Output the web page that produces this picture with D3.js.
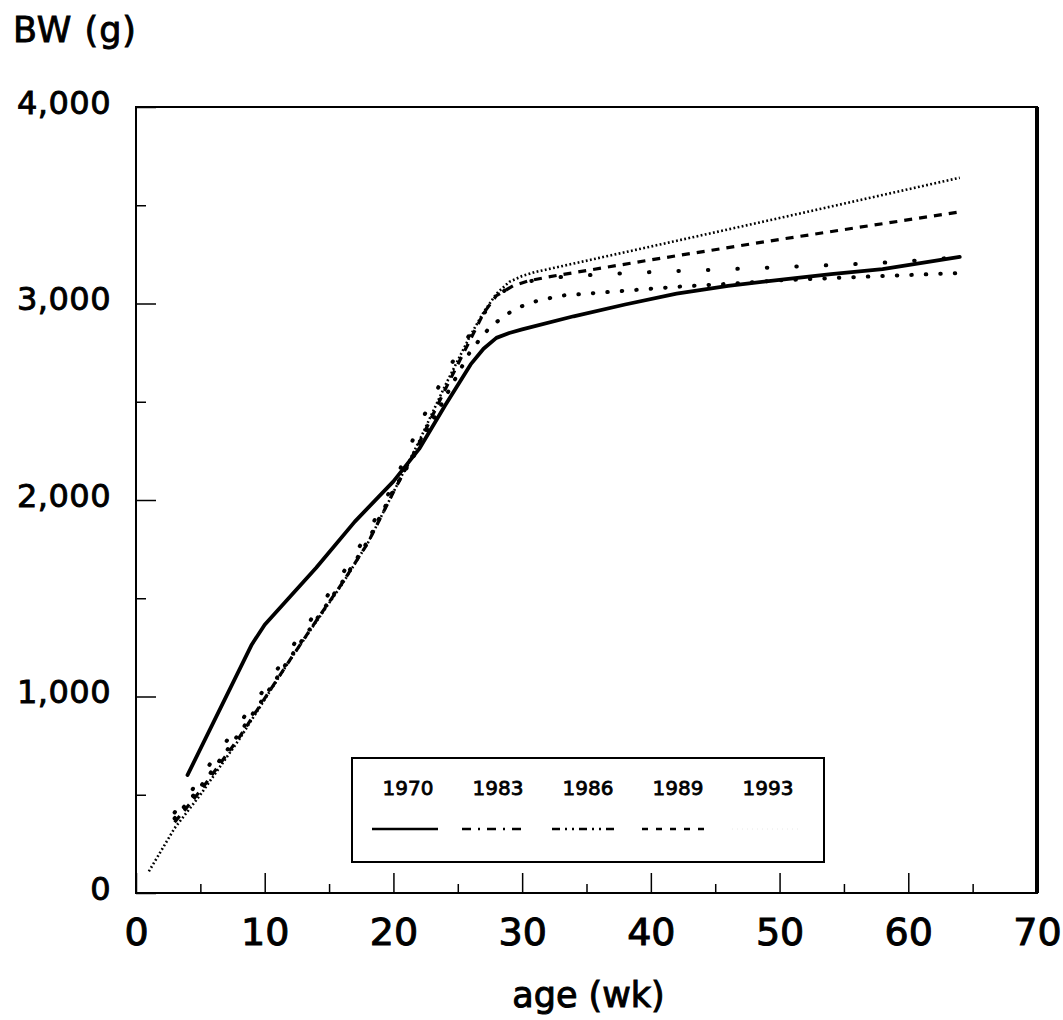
<!DOCTYPE html>
<html lang="en">
<head>
    <meta charset="UTF-8">
    <title>BW by age</title>
    <script src="https://d3js.org/d3.v7.min.js"></script>
    <style>
        body { margin: 0; background: #fff; }
        text { font-family: "DejaVu Sans", sans-serif; fill: #000; }
    </style>
</head>
<body>
<svg id="chart" width="1063" height="1020"></svg>
<script>
    // data (age in weeks, body weight in g)
    const years = ['1970', '1983', '1986', '1989', '1993'];

    const wk1970 = [4, 9, 10, 12, 14, 17, 20, 22, 24, 26, 27, 28, 29, 30, 34, 38, 42, 46, 50, 54, 58, 64];
    const bw1970 = [600, 1265, 1365, 1510, 1655, 1890, 2095, 2260, 2480, 2690, 2770, 2825, 2850, 2868, 2935, 2995, 3050, 3090, 3120, 3150, 3175, 3237];

    const wk1983 = [3, 5, 8, 10, 12, 14, 16, 18, 20, 22, 24, 26, 27.5, 28.5, 29.5, 31, 33, 38, 42, 46, 50, 55, 60, 64];
    const bw1983 = [380, 540, 810, 1000, 1200, 1390, 1580, 1790, 2050, 2270, 2520, 2760, 2880, 2930, 2975, 3010, 3040, 3065, 3085, 3100, 3118, 3132, 3145, 3155];

    const wk1986 = [3, 4, 6, 8, 10, 12, 14, 16, 18, 20, 22, 24, 26, 28, 29.5, 32, 36, 40, 45, 50, 55, 59, 62, 64];
    const bw1986 = [410, 490, 680, 860, 1040, 1240, 1430, 1620, 1830, 2080, 2380, 2640, 2850, 3040, 3100, 3130, 3148, 3160, 3172, 3185, 3198, 3211, 3225, 3237];

    const wk1989 = [3, 5, 8, 10, 12, 14, 16, 18, 20, 22, 24, 26, 27, 28, 29.3, 30.5, 32, 40, 50, 64];
    const bw1989 = [360, 520, 790, 990, 1190, 1385, 1575, 1780, 2040, 2290, 2560, 2820, 2950, 3040, 3090, 3115, 3135, 3222, 3326, 3466];

    const wk1993 = [1, 3, 5, 8, 10, 12, 14, 16, 18, 20, 22, 24, 26, 27, 28, 29, 30, 31, 40, 50, 64];
    const bw1993 = [110, 330, 500, 780, 985, 1190, 1380, 1570, 1780, 2040, 2300, 2580, 2840, 2955, 3050, 3110, 3140, 3160, 3290, 3435, 3640];

    const xMajor = [0, 10, 20, 30, 40, 50, 60, 70];
    const xMinor = [5, 15, 25, 35, 45, 55, 65];
    const yMajor = [0, 1000, 2000, 3000, 4000];
    const yMinor = [500, 1500, 2500, 3500];

    const svg = d3.select('#chart');
    const plotLeft = 136, plotRight = 1037, plotTop = 107, plotBottom = 893;

    const x = d3.scaleLinear().domain([0, 70]).range([plotLeft, plotRight]);
    const y = d3.scaleLinear().domain([0, 4000]).range([plotBottom, plotTop]);

    // line styles per series (plot) and legend samples
    const series = [
        { year: '1970', wk: wk1970, bw: bw1970, width: 3.8, dash: null, cap: 'round', legendDash: null },
        { year: '1983', wk: wk1983, bw: bw1983, width: 4, dash: '0.5,14', cap: 'round', legendDash: '9,7,2,7' },
        { year: '1986', wk: wk1986, bw: bw1986, width: 4, dash: '0.5,29', cap: 'round', legendDash: '8,5,2,5,2,5' },
        { year: '1989', wk: wk1989, bw: bw1989, width: 3.2, dash: '8,7', cap: 'butt', legendDash: '6,8' },
        { year: '1993', wk: wk1993, bw: bw1993, width: 2.6, dash: '1.8,2.4', cap: 'butt', legendDash: '1,4' }
    ];

    const line = d3.line()
        .x(d => x(d[0]))
        .y(d => y(d[1]));

    // x axis: inward ticks, majors with labels
    const gx = svg.append('g').attr('transform', `translate(0,${plotBottom})`);
    gx.call(d3.axisBottom(x).tickValues(xMajor).tickSize(-20).tickFormat(d3.format('d')));
    gx.selectAll('.tick line').attr('stroke-width', 1.5);
    gx.selectAll('.tick text')
        .attr('y', 52).attr('dy', 0)
        .style('font-size', '38px')
        .attr('stroke', '#000').attr('stroke-width', 1);
    gx.select('.domain').remove();

    const gxm = svg.append('g').attr('transform', `translate(0,${plotBottom})`);
    gxm.call(d3.axisBottom(x).tickValues(xMinor).tickSize(-9).tickFormat(''));
    gxm.selectAll('.tick line').attr('stroke-width', 1.5);
    gxm.select('.domain').remove();

    // y axis
    const gy = svg.append('g').attr('transform', `translate(${plotLeft},0)`);
    gy.call(d3.axisLeft(y).tickValues(yMajor).tickSize(-20).tickFormat(d3.format(',')));
    gy.selectAll('.tick line').attr('stroke-width', 1.5);
    gy.selectAll('.tick text')
        .attr('x', -25).attr('y', 6).attr('dy', 0)
        .style('font-size', '32px')
        .style('letter-spacing', '0.5px')
        .attr('stroke', '#000').attr('stroke-width', 0.9);
    gy.select('.domain').remove();

    const gym = svg.append('g').attr('transform', `translate(${plotLeft},0)`);
    gym.call(d3.axisLeft(y).tickValues(yMinor).tickSize(-10).tickFormat(''));
    gym.selectAll('.tick line').attr('stroke-width', 1.5);
    gym.select('.domain').remove();

    // frame
    svg.append('rect')
        .attr('x', plotLeft).attr('y', plotTop)
        .attr('width', plotRight - plotLeft).attr('height', plotBottom - plotTop)
        .attr('fill', 'none').attr('stroke', '#000').attr('stroke-width', 2);
    svg.append('line')
        .attr('x1', plotRight).attr('x2', plotRight).attr('y1', plotTop).attr('y2', plotBottom)
        .attr('stroke', '#000').attr('stroke-width', 4);

    // series lines
    series.forEach(s => {
        const pts = s.wk.map((w, i) => [w, s.bw[i]]);
        svg.append('path')
            .datum(pts)
            .attr('fill', 'none')
            .attr('stroke', '#000')
            .attr('stroke-width', s.width)
            .attr('stroke-linecap', s.cap)
            .attr('stroke-linejoin', 'round')
            .attr('stroke-dasharray', s.dash)
            .attr('d', line);
    });

    // axis titles
    svg.append('text')
        .attr('x', 13).attr('y', 42)
        .style('font-size', '35px')
        .style('letter-spacing', '1px')
        .attr('stroke', '#000').attr('stroke-width', 0.9)
        .text('BW (g)');

    svg.append('text')
        .attr('x', (plotLeft + plotRight) / 2 + 2).attr('y', 1007)
        .attr('text-anchor', 'middle')
        .style('font-size', '35px')
        .attr('stroke', '#000').attr('stroke-width', 1)
        .text('age (wk)');

    // legend
    const legend = svg.append('g');
    legend.append('rect')
        .attr('x', 352).attr('y', 758)
        .attr('width', 472).attr('height', 104)
        .attr('fill', '#fff').attr('stroke', '#000').attr('stroke-width', 2);

    const lx = d3.scalePoint().domain(years).range([408, 768]);

    legend.selectAll('text.year')
        .data(series)
        .join('text')
        .attr('class', 'year')
        .attr('x', d => lx(d.year))
        .attr('y', 795)
        .attr('text-anchor', 'middle')
        .style('font-size', '20px')
        .attr('stroke', '#000').attr('stroke-width', 0.8)
        .text(d => d.year);

    legend.selectAll('line.sample')
        .data(series)
        .join('line')
        .attr('class', 'sample')
        .attr('x1', d => lx(d.year) - 36)
        .attr('x2', d => lx(d.year) + 30)
        .attr('y1', 829).attr('y2', 829)
        .attr('stroke', d => d.year === '1993' ? '#e8e8e8' : '#000')
        .attr('stroke-width', d => d.year === '1993' ? 1 : 2.5)
        .attr('stroke-dasharray', d => d.legendDash);
</script>
</body>
</html>
